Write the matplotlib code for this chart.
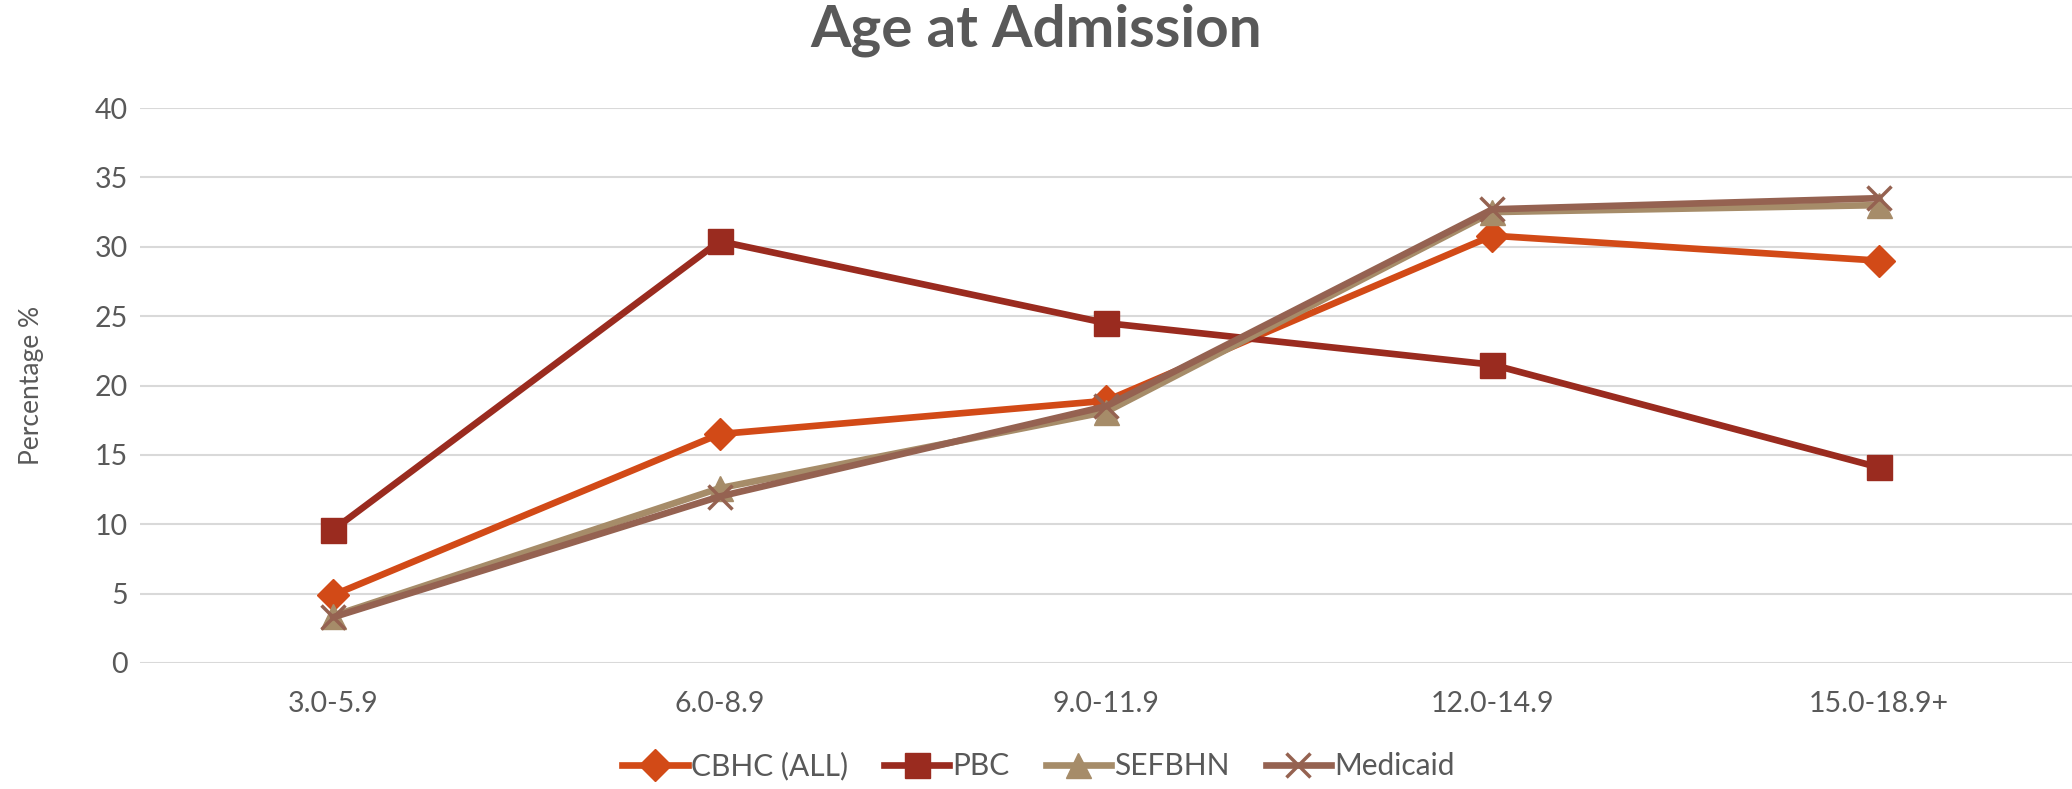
import matplotlib
matplotlib.use("Agg")
import matplotlib.pyplot as plt

plt.rcParams['font.family'] = ['Lato', 'DejaVu Sans']

ageGroups = ["3.0-5.9", "6.0-8.9", "9.0-11.9", "12.0-14.9", "15.0-18.9+"]
cbhcAll = [4.9, 16.5, 18.9, 30.8, 29.0]
pbc = [9.6, 30.4, 24.5, 21.5, 14.1]
sefbhn = [3.4, 12.6, 18.1, 32.5, 33.0]
medicaid = [3.3, 12.0, 18.5, 32.7, 33.5]

textColor = "#595959"

fig = plt.figure(figsize=(20.72, 7.89), dpi=100)
ax = fig.add_axes([0.0676, 0.1597, 0.9324, 0.7034])

x = list(range(len(ageGroups)))
ax.plot(x, cbhcAll, color="#D24A17", lw=4.8, marker="D", ms=16, label="CBHC (ALL)")
ax.plot(x, pbc, color="#9A2B1F", lw=4.8, marker="s", ms=18, label="PBC")
ax.plot(x, sefbhn, color="#A68C69", lw=4.8, marker="^", ms=18, label="SEFBHN")
ax.plot(x, medicaid, color="#956251", lw=4.8, marker="x", ms=17, mew=2.5, label="Medicaid")

ax.set_xlim(-0.5, len(ageGroups) - 0.5)
ax.set_ylim(0, 40)
ax.set_yticks(range(0, 41, 5))
ax.set_xticks(x)
ax.set_xticklabels(ageGroups)
ax.tick_params(axis="both", length=0, labelsize=20.5, colors=textColor)
ax.tick_params(axis="x", pad=20)
ax.tick_params(axis="y", pad=9)
ax.grid(axis="y", color="#D9D9D9", lw=1.5)
ax.set_axisbelow(True)
for s in ax.spines.values():
    s.set_visible(False)

ax.set_ylabel("Percentage %", fontsize=19, color=textColor, labelpad=36)
fig.suptitle("Age at Admission", fontsize=42, fontweight="bold", color=textColor, y=0.995)

ax.legend(loc="center", bbox_to_anchor=(0.465, -0.185), ncol=4, frameon=False,
          fontsize=21.5, labelcolor=textColor, handlelength=2.2, handletextpad=0.1,
          columnspacing=1.2)

fig.savefig("out.png", dpi=100)
